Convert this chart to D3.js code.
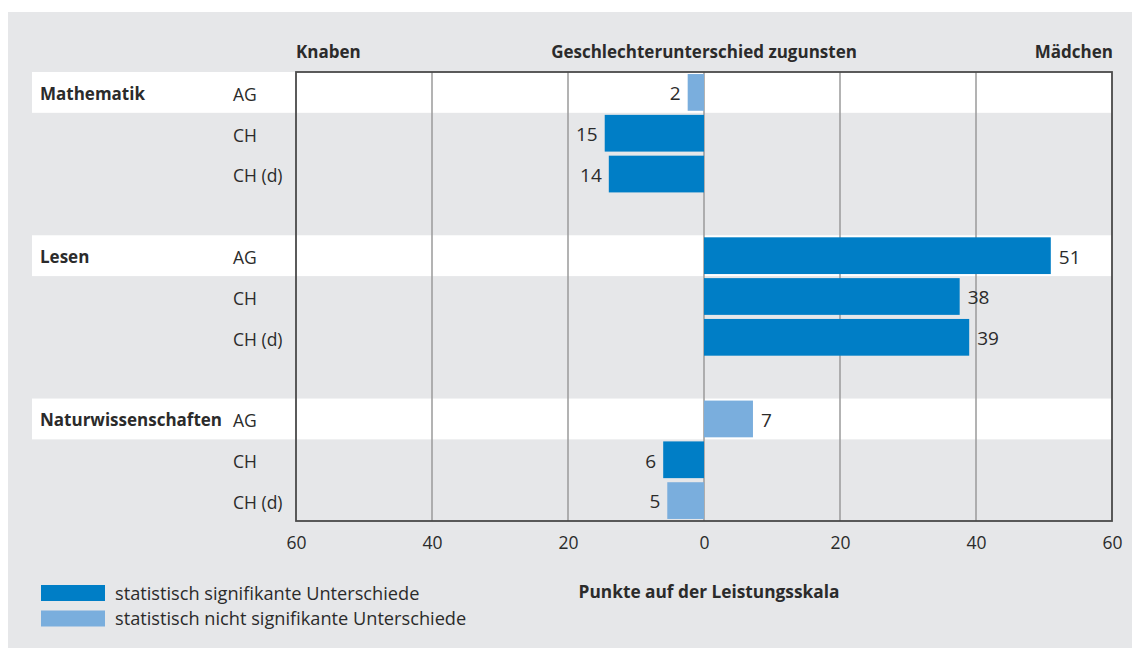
<!DOCTYPE html>
<html>
<head>
<meta charset="utf-8">
<script src="https://cdn.jsdelivr.net/npm/d3@7"></script>
<style>
  body { margin: 0; background: #fff; }
  text { font-family: "Open Sans", sans-serif; fill: #2b2b2b; }
</style>
</head>
<body>
<div id="chart"></div>
<script>
var w = 1132,
    h = 648;

// data
var subjects = ["Mathematik", "Lesen", "Naturwissenschaften"];
var samples = ["AG", "CH", "CH (d)"];
var mathValues = [-2.4, -14.6, -14.0];
var lesenValues = [51.0, 37.6, 39.0];
var naturValues = [7.2, -6.0, -5.4];
var mathSig = [false, true, true];
var lesenSig = [true, true, true];
var naturSig = [false, true, false];
var ticks = [-60, -40, -20, 0, 20, 40, 60];

var palette = {
    bg: '#e6e7e9',
    sig: '#007ec6',
    nonsig: '#7aaedd',
    grid: '#9a9a9a',
    frame: '#4a4a4a'
};

var allValues = [mathValues, lesenValues, naturValues];
var allSig = [mathSig, lesenSig, naturSig];

// one slot per row, with an empty slot between subjects
var rows = [];
subjects.forEach(function(s, si) {
    samples.forEach(function(c, ci) {
        rows.push({
            subject: s,
            sample: c,
            first: ci === 0,
            value: allValues[si][ci],
            sig: allSig[si][ci],
            slot: si * 4 + ci
        });
    });
});

var pLeft = 296, pRight = 1112, pTop = 72, pBottom = 521;

var x = d3.scaleLinear().domain([-60, 60]).range([pLeft, pRight]);
var y = d3.scaleBand().domain(d3.range(11)).range([pTop, pBottom]).paddingInner(0.1).paddingOuter(0.05);
var slotH = (pBottom - pTop) / 11;

var svg = d3.select('#chart')
    .append('svg')
    .attr('width', w)
    .attr('height', h);

svg.append('rect')
    .attr('x', 8).attr('y', 12)
    .attr('width', w - 8).attr('height', h - 12)
    .attr('fill', palette.bg);

// white bands for first row of each subject
svg.selectAll('rect.band')
    .data(rows.filter(function(d) { return d.first }))
    .enter().append('rect')
    .attr('class', 'band')
    .attr('x', 32)
    .attr('y', function(d) { return pTop + d.slot * slotH })
    .attr('width', pRight - 32)
    .attr('height', slotH)
    .attr('fill', '#fff');

// gridlines
svg.selectAll('line.grid')
    .data(ticks.filter(function(t) { return Math.abs(t) < 60 }))
    .enter().append('line')
    .attr('class', 'grid')
    .attr('x1', function(d) { return x(d) })
    .attr('x2', function(d) { return x(d) })
    .attr('y1', pTop)
    .attr('y2', pBottom)
    .attr('stroke', palette.grid)
    .attr('stroke-width', 1.5);

// bars
svg.selectAll('rect.bar')
    .data(rows)
    .enter().append('rect')
    .attr('class', 'bar')
    .attr('x', function(d) { return x(Math.min(0, d.value)) })
    .attr('y', function(d) { return y(d.slot) })
    .attr('width', function(d) { return Math.abs(x(d.value) - x(0)) })
    .attr('height', y.bandwidth())
    .attr('fill', function(d) { return d.sig ? palette.sig : palette.nonsig });

// value labels
svg.selectAll('text.val')
    .data(rows)
    .enter().append('text')
    .attr('class', 'val')
    .text(function(d) { return Math.round(Math.abs(d.value)) })
    .attr('x', function(d) { return d.value < 0 ? x(d.value) - 7 : x(d.value) + 8 })
    .attr('y', function(d) { return y(d.slot) + y.bandwidth() / 2 + 1 })
    .attr('dy', '0.36em')
    .attr('text-anchor', function(d) { return d.value < 0 ? 'end' : 'start' })
    .attr('font-size', '19px');

// frame
svg.append('rect')
    .attr('x', pLeft).attr('y', pTop)
    .attr('width', pRight - pLeft).attr('height', pBottom - pTop)
    .attr('fill', 'none')
    .attr('stroke', palette.frame)
    .attr('stroke-width', 1.8);

// row labels
svg.selectAll('text.subject')
    .data(rows.filter(function(d) { return d.first }))
    .enter().append('text')
    .attr('class', 'subject')
    .text(function(d) { return d.subject })
    .attr('x', 40)
    .attr('y', function(d) { return pTop + (d.slot + 0.5) * slotH + 1 })
    .attr('dy', '0.36em')
    .attr('font-size', '17px')
    .attr('font-weight', 'bold');

svg.selectAll('text.sample')
    .data(rows)
    .enter().append('text')
    .attr('class', 'sample')
    .text(function(d) { return d.sample })
    .attr('x', 233)
    .attr('y', function(d) { return pTop + (d.slot + 0.5) * slotH + 2 })
    .attr('dy', '0.36em')
    .attr('font-size', '17.5px');

// x axis
var axis = d3.axisBottom(x)
    .tickValues(ticks)
    .tickSize(0)
    .tickPadding(16)
    .tickFormat(function(d) { return Math.abs(d) });

var gx = svg.append('g')
    .attr('transform', 'translate(0,' + pBottom + ')')
    .call(axis);
gx.select('.domain').remove();
gx.selectAll('text')
    .attr('font-family', '"Open Sans", sans-serif')
    .attr('font-size', '17.5px')
    .attr('fill', '#2b2b2b');

// header
var header = [
    { t: 'Knaben', x: pLeft, a: 'start' },
    { t: 'Geschlechterunterschied zugunsten', x: x(0), a: 'middle' },
    { t: 'Mädchen', x: pRight + 1, a: 'end' }
];
svg.selectAll('text.head')
    .data(header)
    .enter().append('text')
    .attr('class', 'head')
    .text(function(d) { return d.t })
    .attr('x', function(d) { return d.x })
    .attr('y', 58)
    .attr('text-anchor', function(d) { return d.a })
    .attr('font-size', '17px')
    .attr('font-weight', 'bold');

svg.append('text')
    .text('Punkte auf der Leistungsskala')
    .attr('x', x(0) + 5)
    .attr('y', 598)
    .attr('text-anchor', 'middle')
    .attr('font-size', '17.3px')
    .attr('font-weight', 'bold');

// legend
var legend = [
    { t: 'statistisch signifikante Unterschiede', c: palette.sig },
    { t: 'statistisch nicht signifikante Unterschiede', c: palette.nonsig }
];
var lg = svg.selectAll('g.legend')
    .data(legend)
    .enter().append('g')
    .attr('class', 'legend')
    .attr('transform', function(d, i) { return 'translate(41,' + (585 + i * 25.5) + ')' });
lg.append('rect')
    .attr('width', 64).attr('height', 16)
    .attr('fill', function(d) { return d.c });
lg.append('text')
    .text(function(d) { return d.t })
    .attr('x', 74)
    .attr('y', 8)
    .attr('dy', '0.36em')
    .attr('font-size', '18.2px');
</script>
</body>
</html>
